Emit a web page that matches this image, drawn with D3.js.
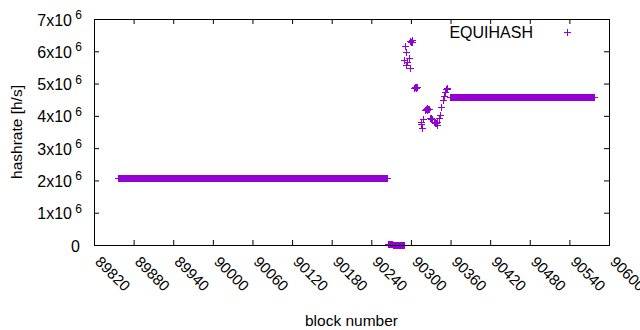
<!DOCTYPE html>
<html>
<head>
<meta charset="utf-8">
<script src="https://cdn.jsdelivr.net/npm/d3@7"></script>
<style>
  body { margin: 0; background: #fff; }
  text { font-family: "Liberation Sans", Arial, sans-serif; fill: #000; }
</style>
</head>
<body>
<script>
// tick values
var xTicks = [89820, 89880, 89940, 90000, 90060, 90120, 90180, 90240, 90300, 90360, 90420, 90480, 90540, 90600];
var yTicks = [0, 1, 2, 3, 4, 5, 6, 7];

// flat runs: one sample per block, same value from start to end
var runStart = [89857, 90265, 90273, 90359];
var runEnd   = [90264, 90272, 90289, 90577];
var runValue = [2.07e6, 0.03e6, 0, 4.59e6];

// the jumpy part after the fork (value in h/s)
var jumpBlock = [90290, 90291, 90292, 90293, 90294, 90297, 90298, 90299, 90300, 90301, 90302,
  90305, 90306, 90307, 90308, 90309, 90315, 90316, 90317, 90318,
  90322, 90323, 90324, 90325, 90326, 90327, 90329, 90330, 90331, 90332,
  90335, 90336, 90337, 90338, 90339, 90340, 90342, 90344, 90346, 90348, 90350, 90351,
  90353, 90354, 90355];
var jumpValue = [5.73e6, 6.16e6, 5.98e6, 5.59e6, 5.68e6, 5.80e6, 5.47e6, 6.33e6, 6.29e6, 6.35e6, 6.30e6,
  4.87e6, 4.90e6, 4.86e6, 4.89e6, 4.88e6, 3.74e6, 3.82e6, 3.63e6, 3.89e6,
  4.18e6, 4.22e6, 4.19e6, 4.23e6, 4.20e6, 4.21e6, 3.93e6, 3.90e6, 3.94e6, 3.91e6,
  3.80e6, 3.78e6, 3.82e6, 3.79e6, 3.81e6, 3.72e6, 3.92e6, 4.02e6, 4.28e6, 4.49e6, 4.62e6, 4.75e6,
  4.82e6, 4.85e6, 4.83e6];

var seriesName = "EQUIHASH";
var color = "#9400d3";

var W = 640, H = 330;
var pL = 94, pR = 609, pT = 19, pB = 245;

var points = [];
runStart.forEach(function(s, i) {
  for (var b = s; b <= runEnd[i]; b++) points.push({x: b, y: runValue[i]});
});
jumpBlock.forEach(function(b, i) { points.push({x: b, y: jumpValue[i]}); });

var x = d3.scaleLinear().domain([89820, 90600]).range([pL, pR]);
var y = d3.scaleLinear().domain([0, 7e6]).range([pB, pT]);

var svg = d3.select("body").append("svg")
  .attr("width", W)
  .attr("height", H);

var plus = "M-3.5,0H3.5M0,-3.5V3.5";

// points, snapped to the pixel grid like gnuplot does
svg.append("g")
  .selectAll("path")
  .data(points)
  .enter()
  .append("path")
  .attr("d", plus)
  .attr("transform", function(d){
    return "translate(" + (Math.round(x(d.x)) + 0.5) + "," + (Math.round(y(d.y)) + 0.5) + ")";
  })
  .attr("stroke", color)
  .attr("stroke-width", 1)
  .attr("fill", "none");

// axes, ticks inward on all sides
var tl = 5;
svg.append("g").attr("transform", "translate(0," + pB + ")")
  .call(d3.axisBottom(x).tickValues(xTicks).tickSize(-tl).tickFormat(""))
  .call(function(g){ g.select(".domain").remove(); });
svg.append("g").attr("transform", "translate(0," + pT + ")")
  .call(d3.axisTop(x).tickValues(xTicks).tickSize(-tl).tickFormat(""))
  .call(function(g){ g.select(".domain").remove(); });
svg.append("g").attr("transform", "translate(" + pL + ",0)")
  .call(d3.axisLeft(y).tickValues(yTicks.map(function(v){ return v * 1e6; })).tickSize(-tl).tickFormat(""))
  .call(function(g){ g.select(".domain").remove(); });
svg.append("g").attr("transform", "translate(" + pR + ",0)")
  .call(d3.axisRight(y).tickValues(yTicks.map(function(v){ return v * 1e6; })).tickSize(-tl).tickFormat(""))
  .call(function(g){ g.select(".domain").remove(); });
svg.selectAll(".tick line").attr("stroke", "#000");

svg.append("rect")
  .attr("x", pL + 0.5).attr("y", pT + 0.5)
  .attr("width", pR - pL).attr("height", pB - pT)
  .attr("fill", "none").attr("stroke", "#000").attr("stroke-width", 1);

// y tick labels, a x 10^6
yTicks.forEach(function(v){
  var t = svg.append("text")
    .attr("x", 82)
    .attr("y", y(v * 1e6) + 6.5)
    .attr("text-anchor", "end")
    .style("font-size", "16px");
  if (v === 0) {
    t.attr("x", 80).text("0");
  } else {
    t.append("tspan").text(v + "x10");
    t.append("tspan").attr("dy", -6.5).style("font-size", "12px").text("\u00a06");
  }
});

// x tick labels, turned 45 degrees
svg.selectAll("text.xl")
  .data(xTicks)
  .enter()
  .append("text")
  .attr("class", "xl")
  .attr("transform", function(d){ return "translate(" + (x(d) + 4) + "," + 259 + ") rotate(45)"; })
  .attr("dy", "0.35em")
  .style("font-size", "15px")
  .text(function(d){ return d; });

svg.append("text")
  .attr("x", (pL + pR) / 2)
  .attr("y", 326)
  .attr("text-anchor", "middle")
  .style("font-size", "15.5px")
  .text("block number");

svg.append("text")
  .attr("transform", "translate(22," + ((pT + pB) / 2) + ") rotate(-90)")
  .attr("text-anchor", "middle")
  .style("font-size", "15.5px")
  .text("hashrate [h/s]");

// legend
svg.append("text")
  .attr("x", 533)
  .attr("y", 38)
  .attr("text-anchor", "end")
  .style("font-size", "16px")
  .text(seriesName);
svg.append("path")
  .attr("d", plus)
  .attr("transform", "translate(567.5,32.5)")
  .attr("stroke", color)
  .attr("fill", "none");
</script>
</body>
</html>
